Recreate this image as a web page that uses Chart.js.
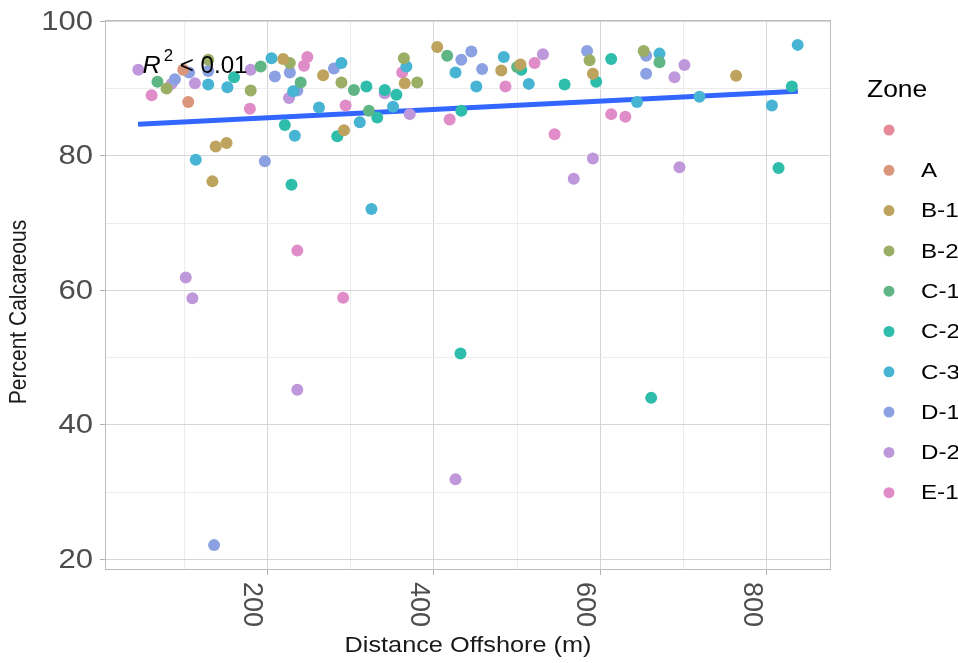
<!DOCTYPE html>
<html>
<head>
<meta charset="utf-8">
<script src="https://cdn.jsdelivr.net/npm/chart.js@4.4.1/dist/chart.umd.min.js"></script>
<style>
  body { margin: 0; background: #fff; }
  #wrap { width: 958px; height: 663px; }
</style>
</head>
<body>
<div id="wrap"><canvas id="chart" width="958" height="663"></canvas></div>
<script>
// zones + colours (legend order)
const zones = ['', 'A', 'B-1', 'B-2', 'C-1', 'C-2', 'C-3', 'D-1', 'D-2', 'E-1'];
const zoneColors = ['#e5899b', '#d9967b', '#bea35f', '#9aae66', '#5fb684', '#2ebcab', '#47b4d4', '#8ca1e1', '#bf98db', '#e08cc9'];

// distance offshore (m) and percent calcareous, per zone
const distBlank = [];
const calcBlank = [];
const distA = [99, 105];
const calcA = [92.8, 88.0];
const distB1 = [138, 151, 134, 219, 267, 292, 365, 404, 481, 504, 591, 763];
const calcB1 = [81.4, 81.9, 76.2, 94.4, 92.0, 83.8, 90.8, 96.2, 92.7, 93.6, 92.2, 91.9];
const distB2 = [79, 129, 180, 227, 289, 364, 380, 587, 652];
const calcB2 = [90.0, 94.3, 89.7, 93.8, 90.9, 94.5, 90.9, 94.2, 95.6];
const distC1 = [68, 192, 240, 304, 322, 416, 500, 671];
const calcC1 = [91.0, 93.3, 90.9, 89.8, 86.7, 94.9, 93.2, 93.9];
const distC2 = [160, 221, 229, 284, 319, 332, 341, 355, 433, 432, 505, 557, 595, 613, 661, 814, 830];
const calcC2 = [91.7, 84.6, 75.7, 82.9, 90.3, 85.7, 89.8, 89.1, 86.7, 50.6, 92.8, 90.6, 91.0, 94.4, 44.0, 78.2, 90.3];
const distC3 = [129, 114, 152, 205, 231, 233, 262, 289, 311, 351, 367, 325, 426, 451, 484, 514, 644, 671, 719, 806, 837];
const calcC3 = [90.6, 79.4, 90.2, 94.5, 89.6, 83.0, 87.2, 93.8, 85.0, 87.3, 93.3, 72.1, 92.4, 90.3, 94.7, 90.7, 88.0, 95.2, 88.8, 87.5, 96.5];
const distD1 = [89, 106, 129, 136, 197, 209, 227, 236, 280, 433, 445, 458, 584, 655, 655];
const calcD1 = [91.4, 92.4, 92.6, 22.1, 79.2, 91.8, 92.4, 89.7, 93.0, 94.3, 95.5, 92.9, 95.6, 94.9, 92.2];
const distD2 = [45, 85, 113, 180, 226, 102, 110, 236, 341, 371, 426, 531, 568, 591, 689, 701, 695];
const calcD2 = [92.8, 90.7, 90.8, 92.8, 88.6, 61.9, 58.8, 45.2, 89.3, 86.2, 31.9, 95.1, 76.6, 79.6, 91.7, 93.5, 78.3];
const distE1 = [61, 179, 244, 248, 236, 291, 294, 362, 419, 486, 521, 545, 613, 630];
const calcE1 = [89.0, 87.0, 93.4, 94.7, 65.9, 58.9, 87.5, 92.4, 85.4, 90.3, 93.8, 83.2, 86.2, 85.8];

const zoneDist = [distBlank, distA, distB1, distB2, distC1, distC2, distC3, distD1, distD2, distE1];
const zoneCalc = [calcBlank, calcA, calcB1, calcB2, calcC1, calcC2, calcC3, calcD1, calcD2, calcE1];

// lm fit line ends
const trendDist = [44.7, 837.2];
const trendCalc = [84.7, 89.6];

// axes
const xGrid = [100, 200, 300, 400, 500, 600, 700, 800];
const xTickLabels = [200, 400, 600, 800];
const yGrid = [20, 30, 40, 50, 60, 70, 80, 90, 100];
const yTickLabels = [20, 40, 60, 80, 100];

const FONT = '"Liberation Sans", Arial, sans-serif';
const SX = 1.15; // picture text is a bit wide

function wideText(ctx, s, x, y, align, base, rot, sx = SX) {
  ctx.save();
  ctx.translate(x, y);
  ctx.scale(sx, 1);
  if (rot) ctx.rotate(rot);
  ctx.textAlign = align;
  ctx.textBaseline = base;
  ctx.fillText(s, 0, 0);
  ctx.restore();
}

const isMajor = (v, list) => list.includes(v);

// extras: border, labels, titles, legend, R2
const ggExtras = {
  id: 'ggExtras',
  afterDraw(chart) {
    const { ctx, chartArea: a, scales: { x, y } } = chart;
    ctx.save();

    ctx.strokeStyle = '#bdbdbd';
    ctx.lineWidth = 1;
    ctx.strokeRect(a.left + 0.5, a.top + 0.5, a.width - 1, a.height - 1);

    // tick labels
    ctx.fillStyle = '#4d4d4d';
    ctx.font = `27px ${FONT}`;
    yTickLabels.forEach(v => wideText(ctx, String(v), 93, y.getPixelForValue(v) + 1, 'right', 'middle'));
    xTickLabels.forEach(v => wideText(ctx, String(v), x.getPixelForValue(v) - 1, a.bottom + 12, 'left', 'top', Math.PI / 2, 1.05));

    // axis titles
    ctx.fillStyle = '#1a1a1a';
    ctx.font = `22px ${FONT}`;
    wideText(ctx, 'Distance Offshore (m)', (a.left + a.right) / 2, 646, 'center', 'middle');
    ctx.font = `21px ${FONT}`;
    wideText(ctx, 'Percent Calcareous', 19, 312, 'center', 'middle', -Math.PI / 2);

    // R2 note
    ctx.fillStyle = '#000';
    const ax = x.getPixelForValue(50), ay = y.getPixelForValue(92.3);
    ctx.font = `italic 24px ${FONT}`;
    wideText(ctx, 'R', ax, ay, 'left', 'alphabetic', 0, 1.05);
    const rw = ctx.measureText('R').width * 1.05;
    ctx.font = `16px ${FONT}`;
    wideText(ctx, '2', ax + rw + 3, ay - 12, 'left', 'alphabetic', 0, 1.05);
    const sw = ctx.measureText('2').width * 1.05;
    ctx.font = `23px ${FONT}`;
    wideText(ctx, ' < 0.01', ax + rw + sw + 3, ay, 'left', 'alphabetic', 0, 1.05);

    // legend
    ctx.fillStyle = '#000';
    ctx.font = `23px ${FONT}`;
    wideText(ctx, 'Zone', 867, 97, 'left', 'alphabetic');
    ctx.font = `21px ${FONT}`;
    zones.forEach((z, i) => {
      const cy = 130 + i * 40.3;
      ctx.fillStyle = zoneColors[i];
      ctx.beginPath();
      ctx.arc(889, cy, 5.5, 0, Math.PI * 2);
      ctx.fill();
      ctx.fillStyle = '#000';
      wideText(ctx, z, 921, cy + 1, 'left', 'middle');
    });

    ctx.restore();
  }
};

const datasets = zones.map((z, i) => ({
  label: z,
  data: zoneDist[i].map((d, k) => ({ x: d, y: zoneCalc[i][k] })),
  backgroundColor: zoneColors[i],
  borderWidth: 0,
  pointRadius: 6,
  order: 0
}));

datasets.push({
  label: 'lm',
  data: trendDist.map((d, k) => ({ x: d, y: trendCalc[k] })),
  showLine: true,
  borderColor: '#3366ff',
  borderWidth: 5,
  pointRadius: 0,
  order: 1
});

new Chart(document.getElementById('chart'), {
  type: 'scatter',
  data: { datasets },
  options: {
    responsive: false,
    devicePixelRatio: 1,
    animation: false,
    layout: { padding: { top: 20, right: 127, left: 0, bottom: 0 } },
    plugins: { legend: { display: false }, tooltip: { enabled: false } },
    scales: {
      x: {
        type: 'linear',
        min: 5,
        max: 877,
        afterBuildTicks: s => { s.ticks = xGrid.map(v => ({ value: v })); },
        afterFit: s => { s.height = 93; },
        ticks: { display: false },
        border: { display: false },
        grid: {
          color: c => isMajor(c.tick.value, xTickLabels) ? '#d6d6d6' : '#ececec',
          lineWidth: 1,
          tickLength: 5,
          tickColor: c => isMajor(c.tick.value, xTickLabels) ? '#b3b3b3' : 'rgba(0,0,0,0)'
        }
      },
      y: {
        type: 'linear',
        min: 18.4,
        max: 100.2,
        afterBuildTicks: s => { s.ticks = yGrid.map(v => ({ value: v })); },
        afterFit: s => { s.width = 105; },
        ticks: { display: false },
        border: { display: false },
        grid: {
          color: c => isMajor(c.tick.value, yTickLabels) ? '#d6d6d6' : '#ececec',
          lineWidth: 1,
          tickLength: 5,
          tickColor: c => isMajor(c.tick.value, yTickLabels) ? '#b3b3b3' : 'rgba(0,0,0,0)'
        }
      }
    }
  },
  plugins: [ggExtras]
});
</script>
</body>
</html>
